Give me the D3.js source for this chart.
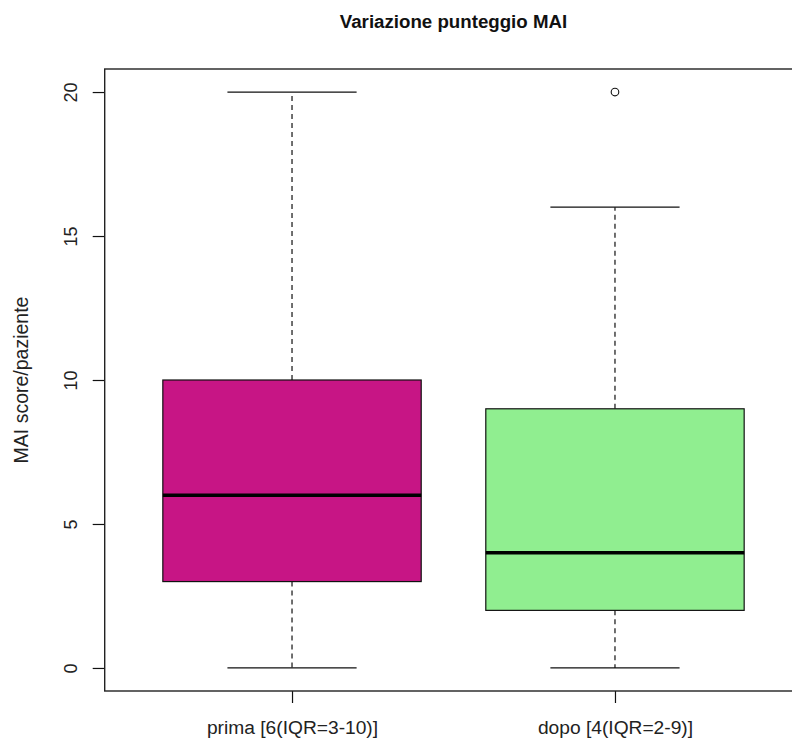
<!DOCTYPE html>
<html>
<head>
<meta charset="utf-8">
<script src="https://cdn.jsdelivr.net/npm/d3@7"></script>
<style>
  body { margin: 0; background: #fff; }
  svg { display: block; font-family: "Liberation Sans", Arial, sans-serif; }
</style>
</head>
<body>
<script>
// global variables
var w = 792;
var h = 742;

// box statistics
var groups = ["prima [6(IQR=3-10)]", "dopo [4(IQR=2-9)]"];
var lowWhisk = [0, 0];
var q1 = [3, 2];
var medians = [6, 4];
var q3 = [10, 9];
var highWhisk = [20, 16];
var outliers = [[], [20]];
var fills = ["#C71585", "#90EE90"];
var yTicks = [0, 5, 10, 15, 20];

var boxes = groups.map(function(g, i) {
  return {
    pos: i + 1,
    lo: lowWhisk[i], q1: q1[i], med: medians[i], q3: q3[i], hi: highWhisk[i],
    out: outliers[i], fill: fills[i]
  };
});

var svg = d3.select("body")
            .append("svg")
            .attr("width", w)
            .attr("height", h);

// R style scales, domain extended 4%
var xScale = d3.scaleLinear()
               .domain([0.42, 2.58])
               .range([104.7, 802.3]);

var yScale = d3.scaleLinear()
               .domain([-0.8, 20.8])
               .range([691, 69]);

var ink = "#111";

// title
svg.append("text")
   .attr("x", (xScale(0.42) + xScale(2.58)) / 2)
   .attr("y", 28)
   .attr("text-anchor", "middle")
   .attr("font-weight", "bold")
   .attr("font-size", "18.7px")
   .attr("fill", "#111")
   .text("Variazione punteggio MAI");

// y axis
var yAxis = svg.append("g")
   .attr("transform", "translate(" + xScale(0.42) + ",0)")
   .call(d3.axisLeft(yScale).tickValues(yTicks).tickSize(12));

yAxis.select(".domain").remove();
yAxis.selectAll("line").attr("stroke", ink).attr("stroke-width", 1.2);
yAxis.selectAll("text")
     .attr("x", 0)
     .attr("dy", 0)
     .attr("transform", "translate(-28,0) rotate(-90)")
     .attr("text-anchor", "middle")
     .attr("font-size", "18px")
     .attr("font-family", "Liberation Sans, Arial, sans-serif")
     .attr("fill", "#222");

// x axis
var xAxis = svg.append("g")
   .attr("transform", "translate(0," + yScale(-0.8) + ")")
   .call(d3.axisBottom(xScale)
           .tickValues([1, 2])
           .tickFormat(function(d) { return groups[d - 1]; })
           .tickSize(12));

xAxis.select(".domain").remove();
xAxis.selectAll("line").attr("stroke", ink).attr("stroke-width", 1.2);
xAxis.selectAll("text")
     .attr("y", 43)
     .attr("dy", 0)
     .attr("font-size", "19.2px")
     .attr("font-family", "Liberation Sans, Arial, sans-serif")
     .attr("fill", "#222");

// y label
svg.append("text")
   .attr("transform", "translate(28," + yScale(10) + ") rotate(-90)")
   .attr("text-anchor", "middle")
   .attr("font-size", "19.5px")
   .attr("fill", "#222")
   .text("MAI score/paziente");

// whiskers, dashed
var bx = svg.selectAll(".box")
            .data(boxes)
            .enter()
            .append("g")
            .attr("class", "box");

bx.append("line")
  .attr("x1", function(d) { return xScale(d.pos); })
  .attr("x2", function(d) { return xScale(d.pos); })
  .attr("y1", function(d) { return yScale(d.q3); })
  .attr("y2", function(d) { return yScale(d.hi); })
  .attr("stroke", ink)
  .attr("stroke-width", 1.2)
  .attr("stroke-dasharray", "5,4");

bx.append("line")
  .attr("x1", function(d) { return xScale(d.pos); })
  .attr("x2", function(d) { return xScale(d.pos); })
  .attr("y1", function(d) { return yScale(d.q1); })
  .attr("y2", function(d) { return yScale(d.lo); })
  .attr("stroke", ink)
  .attr("stroke-width", 1.2)
  .attr("stroke-dasharray", "5,4");

// whisker caps
["hi", "lo"].forEach(function(k) {
  bx.append("line")
    .attr("x1", function(d) { return xScale(d.pos - 0.2); })
    .attr("x2", function(d) { return xScale(d.pos + 0.2); })
    .attr("y1", function(d) { return yScale(d[k]); })
    .attr("y2", function(d) { return yScale(d[k]); })
    .attr("stroke", ink)
    .attr("stroke-width", 1.2);
});

// boxes
bx.append("rect")
  .attr("x", function(d) { return xScale(d.pos - 0.4); })
  .attr("width", function(d) { return xScale(d.pos + 0.4) - xScale(d.pos - 0.4); })
  .attr("y", function(d) { return yScale(d.q3); })
  .attr("height", function(d) { return yScale(d.q1) - yScale(d.q3); })
  .attr("fill", function(d) { return d.fill; })
  .attr("stroke", ink)
  .attr("stroke-width", 1.2);

// medians
bx.append("line")
  .attr("x1", function(d) { return xScale(d.pos - 0.4); })
  .attr("x2", function(d) { return xScale(d.pos + 0.4); })
  .attr("y1", function(d) { return yScale(d.med); })
  .attr("y2", function(d) { return yScale(d.med); })
  .attr("stroke", "#000")
  .attr("stroke-width", 3.5);

// outliers
bx.selectAll("circle")
  .data(function(d) { return d.out.map(function(v) { return {pos: d.pos, v: v}; }); })
  .enter()
  .append("circle")
  .attr("cx", function(d) { return xScale(d.pos); })
  .attr("cy", function(d) { return yScale(d.v); })
  .attr("r", 3.8)
  .attr("fill", "none")
  .attr("stroke", ink)
  .attr("stroke-width", 1.1);

// plot frame
svg.append("rect")
   .attr("x", xScale(0.42))
   .attr("y", yScale(20.8))
   .attr("width", xScale(2.58) - xScale(0.42))
   .attr("height", yScale(-0.8) - yScale(20.8))
   .attr("fill", "none")
   .attr("stroke", "#222")
   .attr("stroke-width", 1.4);
</script>
</body>
</html>
